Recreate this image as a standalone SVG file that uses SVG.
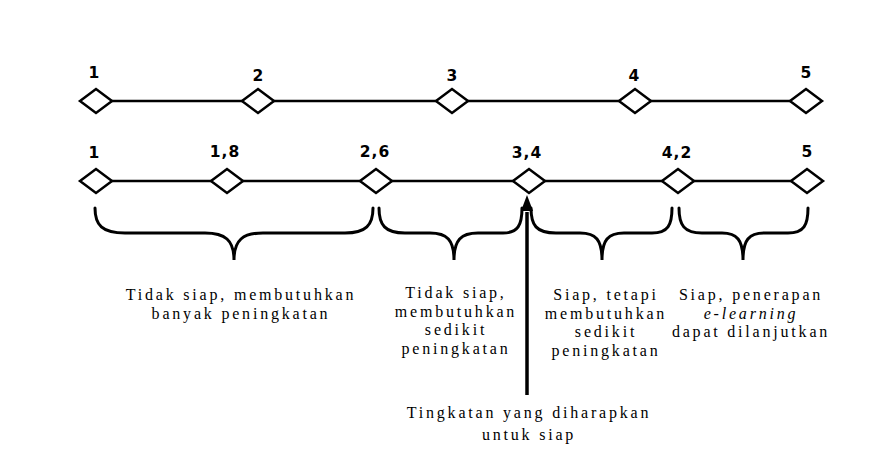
<svg xmlns="http://www.w3.org/2000/svg" width="876" height="473" viewBox="0 0 876 473">
<defs>
<style>
.ln{stroke:#000;stroke-width:2.5;fill:none}
.dm{fill:#fff;stroke:#000;stroke-width:2.5}
.br{stroke:#000;stroke-width:3;fill:none;stroke-linecap:round}
.num{font-family:"DejaVu Sans",sans-serif;font-weight:bold;font-size:15.5px;text-anchor:middle;fill:#000}
.lb{font-family:"Liberation Serif",serif;font-size:16px;letter-spacing:2.8px;text-anchor:middle;fill:#000}
</style>
<path id="d" d="M-16,0 L0,-12 L16,0 L0,12 Z"/>
</defs>
<rect width="876" height="473" fill="#fff"/>
<g id="connectors">
<line class="ln" x1="97" y1="101" x2="805" y2="101"/>
<line class="ln" x1="97" y1="181" x2="807" y2="181"/>
<line x1="527" y1="395" x2="527" y2="212" stroke="#000" stroke-width="3.5"/>
<path d="M527,195 L533,211 L521,211 Z" fill="#000"/>
</g>
<g id="scale1">
<g id="t1"><use href="#d" class="dm" x="96" y="101"/><text class="num" x="94" y="78">1</text></g>
<g id="t2"><use href="#d" class="dm" x="258" y="101"/><text class="num" x="258" y="81">2</text></g>
<g id="t3"><use href="#d" class="dm" x="452" y="101"/><text class="num" x="452" y="81">3</text></g>
<g id="t4"><use href="#d" class="dm" x="635" y="101"/><text class="num" x="634" y="81">4</text></g>
<g id="t5"><use href="#d" class="dm" x="806" y="101"/><text class="num" x="806" y="78">5</text></g>
</g>
<g id="scale2">
<g id="s1"><use href="#d" class="dm" x="96" y="181"/><text class="num" x="94" y="158">1</text></g>
<g id="s18"><use href="#d" class="dm" x="227" y="181"/><text class="num" x="225" y="157" letter-spacing="1">1,8</text></g>
<g id="s26"><use href="#d" class="dm" x="376" y="181"/><text class="num" x="375" y="157" letter-spacing="1">2,6</text></g>
<g id="s34"><use href="#d" class="dm" x="529" y="181"/><text class="num" x="527" y="158" letter-spacing="1">3,4</text></g>
<g id="s42"><use href="#d" class="dm" x="678" y="181"/><text class="num" x="677" y="158" letter-spacing="1">4,2</text></g>
<g id="s5"><use href="#d" class="dm" x="807" y="181"/><text class="num" x="807" y="157">5</text></g>
</g>
<g id="brace1">
<path class="br" d="M95,208 C95,225 102,233 125,233 L205,233 C225,233 234,240 234,260 C234,240 243,233 263,233 L345,233 C366,233 373,225 373,208"/>
<text class="lb" x="241" y="300">Tidak siap, membutuhkan</text>
<text class="lb" x="241" y="318.5">banyak peningkatan</text>
</g>
<g id="brace2">
<path class="br" d="M379,208 C379,225 385,233 405,233 L430,233 C447,233 454,240 454,260 C454,240 461,233 478,233 L503,233 C518,233 522,225 522,208"/>
<text class="lb" x="456" y="298">Tidak siap,</text>
<text class="lb" x="456" y="316.5">membutuhkan</text>
<text class="lb" x="456" y="335">sedikit</text>
<text class="lb" x="456" y="353.5">peningkatan</text>
</g>
<g id="brace3">
<path class="br" d="M531,208 C531,225 536,233 556,233 L580,233 C596,233 602,240 602,260 C602,240 608,233 624,233 L652,233 C668,233 672,225 672,208"/>
<text class="lb" x="606" y="300">Siap, tetapi</text>
<text class="lb" x="606" y="318.5">membutuhkan</text>
<text class="lb" x="606" y="337">sedikit</text>
<text class="lb" x="606" y="355.5">peningkatan</text>
</g>
<g id="brace4">
<path class="br" d="M679,208 C679,225 684,233 702,233 L722,233 C737,233 743,240 743,260 C743,240 749,233 764,233 L788,233 C804,233 808,225 808,208"/>
<text class="lb" x="751" y="300">Siap, penerapan</text>
<text class="lb" x="751" y="318.5" font-style="italic">e-learning</text>
<text class="lb" x="751" y="337">dapat dilanjutkan</text>
</g>
<g id="target">
<text class="lb" x="529" y="418">Tingkatan yang diharapkan</text>
<text class="lb" x="529" y="440">untuk siap</text>
</g>
</svg>
